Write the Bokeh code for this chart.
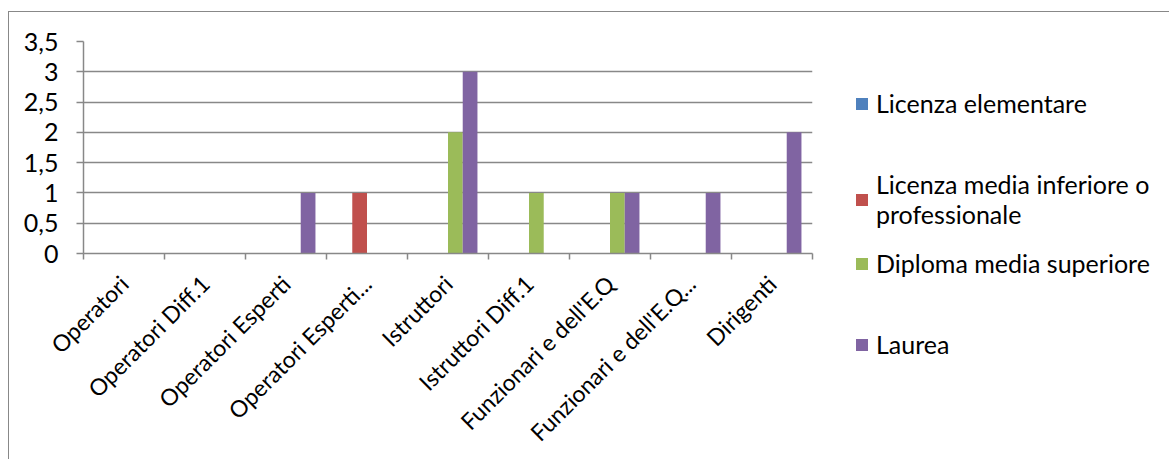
import math
from bokeh.plotting import figure
from bokeh.models import (Range1d, FixedTicker, Legend, LegendItem, ColumnDataSource)
from bokeh.embed import file_html
from bokeh.resources import INLINE

# ---- data -------------------------------------------------------------
categories = ["Operatori", "Operatori Diff.1", "Operatori Esperti",
              "Operatori Esperti...", "Istruttori", "Istruttori Diff.1",
              "Funzionari e dell'E.Q", "Funzionari e dell'E.Q...", "Dirigenti"]
series_names = ["Licenza elementare",
                "Licenza media inferiore o\nprofessionale",
                "Diploma media superiore",
                "Laurea"]
licenza_elementare = [0, 0, 0, 0, 0, 0, 0, 0, 0]
licenza_media_inferiore = [0, 0, 0, 1, 0, 0, 0, 0, 0]
diploma_media_superiore = [0, 0, 0, 0, 2, 1, 1, 0, 0]
laurea = [0, 0, 1, 0, 3, 0, 1, 1, 2]
y_ticks = [0, 0.5, 1, 1.5, 2, 2.5, 3, 3.5]
y_tick_labels = ["0", "0,5", "1", "1,5", "2", "2,5", "3", "3,5"]

series_values = [licenza_elementare, licenza_media_inferiore,
                 diploma_media_superiore, laurea]
colors = ["#4F81BD", "#C0504D", "#9BBB59", "#8064A2"]

FONT = "Lato"
GRID = "#888888"
OX, OY = 8, 11            # outer chart border offset in the page
X0, Y0 = OX + 1, OY + 1   # page position of the figure canvas
W, H = 1170 - X0, 460 - Y0
FRAME_L, FRAME_R, FRAME_T, FRAME_B = 83, 812, 41, 253   # page coords

# ---- chart figure -----------------------------------------------------
p = figure(width=W, height=H, output_backend="svg", toolbar_location=None,
           x_range=Range1d(-0.5, len(categories) - 0.5),
           y_range=Range1d(0, 3.5),
           min_border_left=FRAME_L - X0, min_border_right=1170 - FRAME_R,
           min_border_top=FRAME_T - Y0, min_border_bottom=460 - FRAME_B)
p.styles = {"margin-left": f"{OX}px", "margin-top": f"{OY}px",
            "border-left": "1px solid #888888",
            "border-top": "1px solid #888888"}
p.outline_line_color = None
p.background_fill_color = "white"
p.border_fill_color = "white"

n = len(series_values)
slot = 1.0 / (n + 1.5)           # Excel-like gap width of 150%
sources = []
for s, (vals, col) in enumerate(zip(series_values, colors)):
    off = (0.75 + s + 0.5) * slot - 0.5
    src = ColumnDataSource(dict(x=[i + off for i in range(len(categories))],
                                top=vals))
    sources.append(src)
    p.vbar(x="x", top="top", width=slot, bottom=0, source=src,
           fill_color=col, line_color=None)

xa = p.xaxis[0]
xa.ticker = FixedTicker(ticks=list(range(len(categories))),
                        minor_ticks=[i - 0.5 for i in range(len(categories) + 1)])
xa.major_label_overrides = {i: c for i, c in enumerate(categories)}
xa.major_label_orientation = math.pi / 4
xa.major_tick_line_color = None
xa.major_tick_out = 0
xa.major_tick_in = 0
xa.minor_tick_line_color = GRID
xa.minor_tick_out = 6
xa.minor_tick_in = 0
xa.axis_line_color = GRID
xa.axis_line_width = 1.5
xa.minor_tick_line_width = 1.5
xa.major_label_standoff = 20
xa.major_label_text_font = FONT
xa.major_label_text_font_size = "23px"
xa.major_label_text_color = "black"

ya = p.yaxis[0]
ya.ticker = FixedTicker(ticks=y_ticks, minor_ticks=[])
ya.major_label_overrides = {t: l for t, l in zip(y_ticks, y_tick_labels)}
ya.axis_line_color = GRID
ya.axis_line_width = 1.5
ya.major_tick_line_color = GRID
ya.major_tick_line_width = 1.5
ya.major_tick_out = 7
ya.major_tick_in = 0
ya.minor_tick_line_color = None
ya.major_label_standoff = 18
ya.major_label_text_font = FONT
ya.major_label_text_font_size = "25px"
ya.major_label_text_color = "black"

p.xgrid.grid_line_color = None
p.ygrid.grid_line_color = GRID
p.ygrid.grid_line_width = 1.5
p.ygrid.ticker = ya.ticker

# ---- legend (own canvas, laid over the right part of the chart) -------
LX, LY, LW, LH = 854, 70, 1170 - 854, 320     # page box of the legend canvas
q = figure(width=LW, height=LH, output_backend="svg", toolbar_location=None,
           x_range=Range1d(-100, -99), y_range=Range1d(0, 1),
           x_axis_type=None, y_axis_type=None,
           min_border_left=0, min_border_right=0,
           min_border_top=0, min_border_bottom=0)
q.styles = {"position": "absolute", "left": f"{LX}px", "top": f"{LY}px"}
q.outline_line_color = None
q.xgrid.grid_line_color = None
q.ygrid.grid_line_color = None
q.background_fill_alpha = 0
q.border_fill_alpha = 0

label_centers = [103, 197, 263, 344]      # page y of each legend entry
item_heights = [40, 64, 40, 40]
for s, (src, col) in enumerate(zip(sources, colors)):
    handle = q.vbar(x="x", top="top", width=slot, bottom=0, source=src,
                    fill_color=col, line_color=None)
    leg = Legend(items=[LegendItem(label=series_names[s], renderers=[handle])],
                 location=(0, (LY + LH) - (label_centers[s] + item_heights[s] / 2)),
                 padding=0, margin=0, spacing=0,
                 border_line_color=None, background_fill_alpha=0,
                 glyph_width=15, glyph_height=15, label_standoff=7,
                 label_height=40,
                 label_text_font=FONT, label_text_font_size="25px",
                 label_text_color="black", label_text_line_height=1.28)
    q.add_layout(leg, "center")

open("out.html", "w").write(file_html([p, q], INLINE))
